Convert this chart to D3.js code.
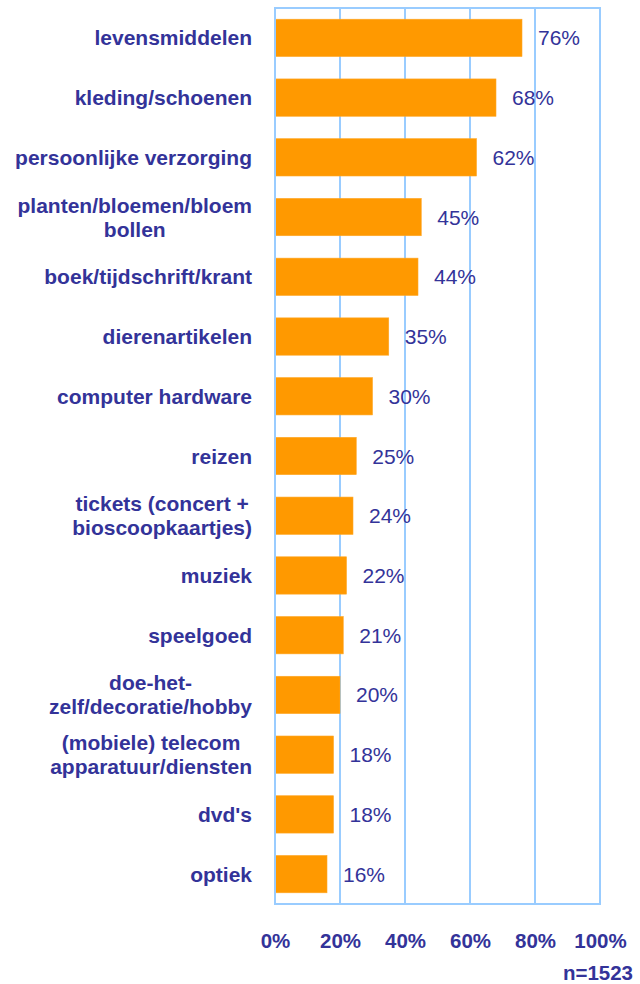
<!DOCTYPE html>
<html>
<head>
<meta charset="utf-8">
<script src="https://cdn.jsdelivr.net/npm/d3@7"></script>
<style>
  html, body { margin: 0; padding: 0; background: #ffffff; }
  svg { display: block; }
  text { font-family: Arial, "Liberation Sans", sans-serif; }
</style>
</head>
<body>
<script>
const categories = [
  "levensmiddelen",
  "kleding/schoenen",
  "persoonlijke verzorging",
  "planten/bloemen/bloem\nbollen",
  "boek/tijdschrift/krant",
  "dierenartikelen",
  "computer hardware",
  "reizen",
  "tickets (concert +\nbioscoopkaartjes)",
  "muziek",
  "speelgoed",
  "doe-het-\nzelf/decoratie/hobby",
  "(mobiele) telecom\napparatuur/diensten",
  "dvd's",
  "optiek"
];
const values = [76, 68, 62, 45, 44, 35, 30, 25, 24, 22, 21, 20, 18, 18, 16];
const tickValues = [0, 20, 40, 60, 80, 100];
const sampleNote = "n=1523";

(function () {
const W = 640, H = 984;
const pLeft = 275, pRight = 600, pTop = 8, pBottom = 904;
const textColor = "#333399";
const gridColor = "#99CCFF";
const barColor = "#FF9900";

const svg = d3.select("body").append("svg").attr("width", W).attr("height", H);

const x = d3.scaleLinear().domain([0, 100]).range([pLeft, pRight]);
const y = d3.scaleBand().domain(categories).range([pTop, pBottom]).paddingInner(0.375).paddingOuter(0.1875);

// gridlines
svg.append("g").selectAll("line").data(tickValues.slice(1, -1)).join("line")
  .attr("x1", d => x(d)).attr("x2", d => x(d))
  .attr("y1", pTop).attr("y2", pBottom)
  .attr("stroke", gridColor).attr("stroke-width", 2);

// bars
svg.append("g").selectAll("rect").data(values).join("rect")
  .attr("x", x(0))
  .attr("y", (d, i) => y(categories[i]))
  .attr("width", d => x(d) - x(0))
  .attr("height", y.bandwidth())
  .attr("fill", barColor)
  .attr("stroke", "#FFA726").attr("stroke-width", 0.6);

// plot border
svg.append("rect")
  .attr("x", pLeft).attr("y", pTop)
  .attr("width", pRight - pLeft).attr("height", pBottom - pTop)
  .attr("fill", "none").attr("stroke", gridColor).attr("stroke-width", 2);

// value labels
svg.append("g").selectAll("text").data(values).join("text")
  .attr("x", d => x(d) + 16)
  .attr("y", (d, i) => y(categories[i]) + y.bandwidth() / 2)
  .attr("dy", "0.36em")
  .attr("font-size", "21px")
  .attr("fill", textColor)
  .text(d => d + "%");

// category labels
const labelRight = 252;
const lineH = 24;
const catG = svg.append("g");
categories.forEach(c => {
  const lines = c.split("\n");
  const cy = y(c) + y.bandwidth() / 2;
  const t = catG.append("text")
    .attr("font-size", "21px").attr("font-weight", "bold")
    .attr("fill", textColor);
  const spans = lines.map((ln, j) => t.append("tspan")
    .attr("y", cy + (j - (lines.length - 1) / 2) * lineH)
    .attr("dy", "0.36em")
    .text(ln));
  if (lines.length === 1) {
    t.attr("text-anchor", "end");
    spans[0].attr("x", labelRight);
  } else {
    const maxW = d3.max(spans, s => s.node().getComputedTextLength());
    t.attr("text-anchor", "middle");
    spans.forEach(s => s.attr("x", labelRight - maxW / 2));
  }
});

// x axis tick labels
const axis = d3.axisBottom(x).tickValues(tickValues).tickFormat(d => d + "%").tickSize(0).tickPadding(0);
const ax = svg.append("g").attr("transform", "translate(0, 933)").call(axis);
ax.select(".domain").remove();
ax.selectAll("text")
  .attr("font-size", "20.5px").attr("font-weight", "bold")
  .attr("fill", textColor)
  .attr("font-family", "Arial, 'Liberation Sans', sans-serif")
  .attr("dy", "0.71em");

// sample size note
svg.append("text")
  .attr("x", 633).attr("y", 980)
  .attr("text-anchor", "end")
  .attr("font-size", "20.5px").attr("font-weight", "bold")
  .attr("fill", textColor)
  .text(sampleNote);
})();
</script>
</body>
</html>
